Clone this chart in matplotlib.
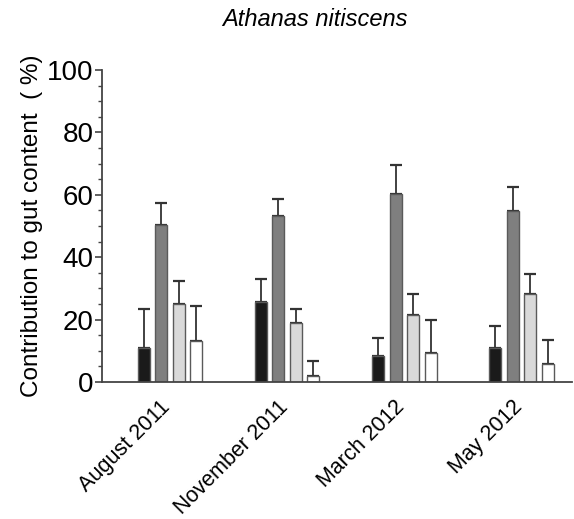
import numpy as np
import matplotlib
matplotlib.use('Agg')
import matplotlib.pyplot as plt
import matplotlib.transforms as mtransforms
from matplotlib.ticker import MultipleLocator

plt.rcParams['font.family'] = ['Liberation Sans', 'DejaVu Sans']

# Datos
meses = ['August 2011', 'November 2011', 'March 2012', 'May 2012']
negro = [11.0, 25.5, 8.4, 11.0]
negro_err = [12.3, 7.4, 5.6, 7.0]
gris_oscuro = [50.3, 53.3, 60.4, 54.8]
gris_oscuro_err = [7.2, 5.4, 9.2, 7.7]
gris_claro = [25.1, 18.8, 21.6, 28.2]
gris_claro_err = [7.3, 4.7, 6.6, 6.5]
blanco = [13.2, 2.0, 9.2, 5.8]
blanco_err = [11.2, 4.7, 10.6, 7.7]

series = [(negro, negro_err, '#1a1a1a'),
          (gris_oscuro, gris_oscuro_err, '#7f7f7f'),
          (gris_claro, gris_claro_err, '#d9d9d9'),
          (blanco, blanco_err, '#ffffff')]

fig = plt.figure(figsize=(5.74, 5.19), dpi=100)
ax = fig.add_axes([0.1777, 0.264, 0.8188, 0.601])

x = np.arange(len(meses))
ancho = 0.102
paso = 0.149
for i, (vals, err, color) in enumerate(series):
    pos = x + (i - 1.5) * paso
    ax.bar(pos, vals, width=ancho, color=color, edgecolor='#5a5a5a', linewidth=1.0, zorder=2)
    ax.errorbar(pos, vals, yerr=[np.zeros(len(err)), err], fmt='none',
                ecolor='#333333', elinewidth=1.3, capsize=4, capthick=1.6, zorder=1)

ax.set_xlim(-0.58, 3.43)
ax.set_ylim(0, 100)
ax.yaxis.set_major_locator(MultipleLocator(20))
ax.yaxis.set_minor_locator(MultipleLocator(5))
ax.set_xticks(x)
ax.set_xticklabels(meses, rotation=45, ha='right', rotation_mode='anchor', fontsize=15.5)
ax.tick_params(axis='x', length=0, pad=9)
ax.tick_params(axis='y', which='major', length=5, width=1.2, color='#444444', labelsize=20, pad=1)
ax.tick_params(axis='y', which='minor', length=3, width=1.0, color='#444444')

# mover las etiquetas un poco a la izquierda
desplazamiento = mtransforms.ScaledTranslation(-10 / 100, -2 / 100, fig.dpi_scale_trans)
for etiqueta in ax.get_xticklabels():
    etiqueta.set_transform(etiqueta.get_transform() + desplazamiento)

for lado in ['top', 'right']:
    ax.spines[lado].set_visible(False)
for lado in ['left', 'bottom']:
    ax.spines[lado].set_color('#444444')
    ax.spines[lado].set_linewidth(1.3)

ax.set_ylabel('Contribution to gut content  ( %)', fontsize=17.5, labelpad=3)
fig.text(0.549, 0.963, 'Athanas nitiscens', fontsize=17, style='italic', ha='center', va='center')

plt.savefig('out.png', dpi=100)
